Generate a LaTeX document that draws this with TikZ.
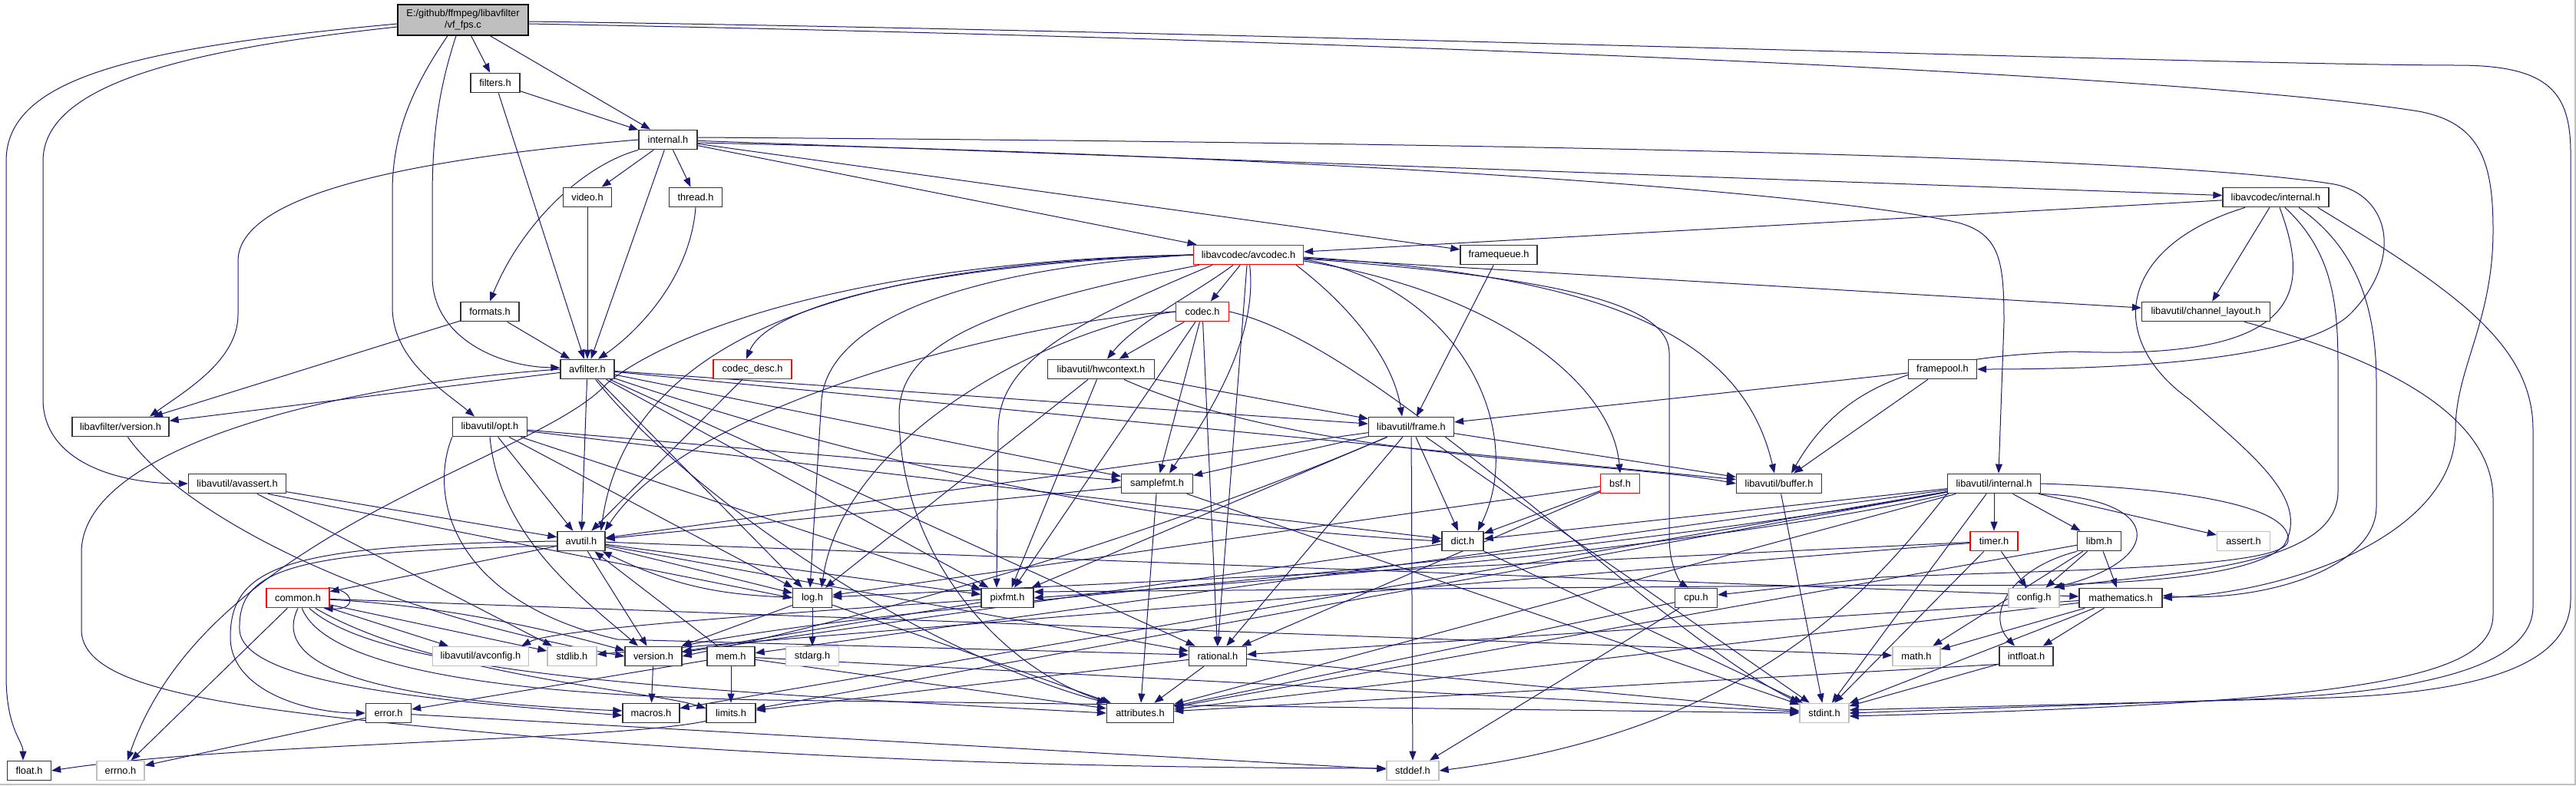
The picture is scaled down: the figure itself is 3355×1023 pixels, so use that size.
\documentclass[tikz,border=0pt]{standalone}
\usepackage{fontspec}
\setmainfont{Liberation Sans}
\usetikzlibrary{arrows.meta,calc}
\definecolor{edgec}{HTML}{191970}
\definecolor{nodeb}{HTML}{333333}
\definecolor{grayb}{HTML}{BFBFBF}
\definecolor{redb}{HTML}{FF0000}
\pgfdeclarelayer{bg}
\pgfsetlayers{bg,main}
\tikzset{
  hn/.style={draw=nodeb, line width=1.3pt, fill=white, inner sep=0pt, minimum height=25.5pt, font=\fontsize{12.8pt}{15pt}\selectfont, text=black},
  hr/.style={hn, draw=redb},
  hg/.style={hn, draw=grayb},
  e/.style={draw=edgec, line width=1pt, -{Triangle[length=12pt,width=9pt]}},
}
\newcommand\hnode[5]{\node[#1, minimum width=#4pt] (#2) at (#3) {#5};}
\begin{document}
\begin{tikzpicture}[x=1pt,y=-1pt]
\useasboundingbox (0,0) rectangle (3355,1023);
% ---------------- nodes ----------------
\node[hn, fill=grayb, draw=black, minimum width=170pt, minimum height=40pt, align=center] (root) at (603,26) {E:/github/ffmpeg/libavfilter\\/vf\_fps.c};
\hnode{hn}{filters}{645,108}{64}{filters.h}
\hnode{hn}{internal}{870,182}{76}{internal.h}
\hnode{hn}{video}{765,257}{63}{video.h}
\hnode{hn}{thread}{906,257}{69}{thread.h}
\hnode{hn}{lacinternal}{2964,257}{138}{libavcodec/internal.h}
\hnode{hr}{avcodec}{1626,332}{143}{libavcodec/avcodec.h}
\hnode{hn}{framequeue}{1952,332}{100}{framequeue.h}
\hnode{hn}{formats}{638,406}{76}{formats.h}
\hnode{hr}{codec}{1566,406}{69}{codec.h}
\hnode{hn}{chlayout}{2873,406}{167}{libavutil/channel\_layout.h}
\hnode{hn}{avfilter}{765,481}{70}{avfilter.h}
\hnode{hr}{codecdesc}{980,481}{102}{codec\_desc.h}
\hnode{hn}{hwcontext}{1434,481}{139}{libavutil/hwcontext.h}
\hnode{hn}{framepool}{2530,481}{89}{framepool.h}
\hnode{hn}{lafversion}{157,556}{126}{libavfilter/version.h}
\hnode{hn}{opt}{638,556}{97}{libavutil/opt.h}
\hnode{hn}{frame}{1838,556}{111}{libavutil/frame.h}
\hnode{hn}{avassert}{309,630}{127}{libavutil/avassert.h}
\hnode{hn}{samplefmt}{1507,630}{93}{samplefmt.h}
\hnode{hr}{bsf}{2110,630}{51}{bsf.h}
\hnode{hn}{buffer}{2317,630}{111}{libavutil/buffer.h}
\hnode{hn}{lauinternal}{2597,630}{121}{libavutil/internal.h}
\hnode{hn}{avutil}{757,705}{62}{avutil.h}
\hnode{hn}{dict}{1905,705}{54}{dict.h}
\hnode{hr}{timer}{2597,705}{62}{timer.h}
\hnode{hn}{libm}{2734,705}{57}{libm.h}
\hnode{hg}{assert}{2922,705}{69}{assert.h}
\hnode{hr}{common}{388,779}{82}{common.h}
\hnode{hn}{log}{1058,779}{51}{log.h}
\hnode{hn}{pixfmt}{1312,779}{68}{pixfmt.h}
\hnode{hn}{cpu}{2209,779}{55}{cpu.h}
\hnode{hg}{config}{2649,779}{66}{config.h}
\hnode{hn}{mathematics}{2762,779}{108}{mathematics.h}
\hnode{hg}{avconfig}{626,855}{125}{libavutil/avconfig.h}
\hnode{hg}{stdlib}{745,855}{64}{stdlib.h}
\hnode{hn}{version}{851,855}{74}{version.h}
\hnode{hn}{mem}{952,855}{62}{mem.h}
\hnode{hg}{stdarg}{1058,855}{69}{stdarg.h}
\hnode{hn}{rational}{1586,855}{75}{rational.h}
\hnode{hg}{math}{2496,855}{62}{math.h}
\hnode{hn}{intfloat}{2639,855}{70}{intfloat.h}
\hnode{hn}{error}{506,929}{59}{error.h}
\hnode{hn}{macros}{848,929}{74}{macros.h}
\hnode{hn}{limits}{952,929}{64}{limits.h}
\hnode{hn}{attributes}{1485,929}{87}{attributes.h}
\hnode{hg}{stdint}{2376,929}{64}{stdint.h}
\hnode{hn}{float}{38,1004}{57}{float.h}
\hnode{hg}{errno}{157,1004}{62}{errno.h}
\hnode{hg}{stddef}{1840,1004}{68}{stddef.h}
% ---------------- edges ----------------
\begin{pgfonlayer}{bg}
\fill[white] (0,0) rectangle (3355,1023);
\draw[grayb, line width=2pt] (0,1022) -- (3354,1022) -- (3354,0);
% root
\draw[e] ($(root.west)+(0,5)$) .. controls (180,62) and (8,100) .. (8,210) -- (8,880) .. controls (8,950) and (30,965) .. ($(float.north)+(-8,0)$);
\draw[e] ($(root.west)+(0,9)$) .. controls (240,65) and (56,110) .. (56,210) -- (56,520) .. controls (56,600) and (150,630) .. (avassert.west);
\draw[e] ($(root.south)+(-20,0)$) .. controls (540,110) and (511,170) .. (511,250) -- (511,400) .. controls (511,470) and (580,510) .. ($(opt.north)+(-20,0)$);
\draw[e] ($(root.south)+(-9,0)$) .. controls (570,120) and (563,180) .. (563,260) -- (563,360) .. controls (563,440) and (650,478) .. ($(avfilter.west)+(0,-2)$);
\draw[e] (root) -- (filters);
\draw[e] (root) -- (internal);
\draw[e] ($(root.east)+(0,2)$) .. controls (1600,40) and (2900,85) .. (3200,85) .. controls (3320,85) and (3348,120) .. (3348,200) -- (3348,780) .. controls (3348,860) and (3250,905) .. (3000,910) -- ($(stdint.east)+(0,-4)$);
\draw[e] ($(root.east)+(0,5)$) .. controls (1600,48) and (2800,90) .. (3150,145) .. controls (3230,160) and (3247,210) .. (3247,300) .. controls (3247,420) and (3198,480) .. (3198,560) .. controls (3198,690) and (3000,770) .. (mathematics.east);
% filters
\draw[e] (filters) -- (internal);
\draw[e] (filters) -- (avfilter);
% internal
\draw[e] (internal) -- (video);
\draw[e] (internal) -- (thread);
\draw[e] (internal) -- (avfilter);
\draw[e] (internal.south west) .. controls (760,215) and (680,290) .. (formats.north);
\draw[e] (internal.west) .. controls (500,210) and (310,260) .. (310,340) -- (310,410) .. controls (310,470) and (240,510) .. ($(lafversion.north)+(38,0)$);
\draw[e] (internal) -- (avcodec);
\draw[e] (internal) -- (framequeue);
\draw[e] (internal) -- (lacinternal);
\draw[e] ($(internal.east)+(0,-3)$) .. controls (1800,185) and (2800,200) .. (3040,240) .. controls (3115,255) and (3130,340) .. (3060,410) .. controls (3000,465) and (2800,481) .. (framepool.east);
\draw[e] ($(internal.east)+(0,4)$) .. controls (1800,205) and (2400,255) .. (2550,290) .. controls (2605,305) and (2610,340) .. (2610,420) -- ($(lauinternal.north)+(6,0)$);
% video, thread, formats
\draw[e] (video) -- (avfilter);
\draw[e] (thread.south) .. controls (898,370) and (820,440) .. ($(avfilter.north)+(14,0)$);
\draw[e] (formats) -- (avfilter);
\draw[e] (formats) -- (lafversion);
% avfilter
\draw[e] (avfilter) -- (lafversion);
\draw[e] (avfilter) -- (avutil);
\draw[e] (avfilter) -- (log);
\draw[e] (avfilter) -- (pixfmt);
\draw[e] (avfilter) -- (samplefmt);
\draw[e] (avfilter) -- (frame);
\draw[e] (avfilter) .. controls (1000,560) and (1400,680) .. (dict.west);
\draw[e] (avfilter) -- (buffer);
\draw[e] (avfilter) -- (rational);
\draw[e] (avfilter) .. controls (900,650) and (1200,850) .. (attributes.north west);
\draw[e] (avfilter.west) .. controls (450,500) and (106,580) .. (106,720) -- (106,820) .. controls (106,900) and (300,925) .. (700,960) .. controls (1200,1000) and (1600,1000) .. ($(stddef.west)+(0,-3)$);
% libavfilter/version.h
\draw[e] (lafversion) .. controls (230,660) and (450,790) .. (version.west);
% opt
\draw[e] (opt) -- (avutil);
\draw[e] (opt) -- (dict);
\draw[e] (opt) -- (log);
\draw[e] (opt) -- (pixfmt);
\draw[e] (opt) -- (samplefmt);
\draw[e] (opt.south) .. controls (650,700) and (760,780) .. ($(version.north)+(-20,0)$);
\draw[e] (opt.south west) .. controls (560,640) and (580,780) .. (804,833) -- ($(rational.west)+(0,-2)$);
% avassert
\draw[e] (avassert) -- (stdlib);
\draw[e] (avassert) -- (avutil);
\draw[e] ($(avassert.south)+(40,0)$) -- (log.west);
% libavcodec/internal.h
\draw[e] (lacinternal) -- (avcodec);
\draw[e] (lacinternal) -- (chlayout);
\draw[e] ($(lacinternal.south)+(5,0)$) .. controls (3010,380) and (3000,470) .. (2700,458) .. controls (2500,465) and (2400,500) .. ($(buffer.north)+(16,0)$);
\draw[e] ($(lacinternal.south)+(-40,0)$) .. controls (2760,320) and (2740,440) .. (2851,520) .. controls (2930,590) and (3010,650) .. (2975,710) .. controls (2930,760) and (2700,765) .. (2500,762) -- ($(pixfmt.east)+(0,-8)$);
\draw[e] ($(lacinternal.south)+(12,0)$) .. controls (3040,330) and (3045,400) .. (3045,480) -- (3045,640) .. controls (3045,740) and (2830,745) .. ($(config.north east)+(-6,0)$);
\draw[e] ($(lacinternal.south)+(30,0)$) .. controls (3080,330) and (3095,420) .. (3095,500) -- (3095,660) .. controls (3095,740) and (2950,785) .. ($(mathematics.east)+(0,-3)$);
\draw[e] ($(lacinternal.south east)+(-15,0)$) .. controls (3200,380) and (3299,450) .. (3299,560) -- (3299,790) .. controls (3299,870) and (3150,905) .. (2900,912) -- (stdint.east);
% libavcodec/avcodec.h
\draw[e] (avcodec.west) .. controls (1100,340) and (860,440) .. (790,500) .. controls (700,600) and (270,690) .. ($(errno.north)+(9,0)$);
\draw[e] (avcodec) .. controls (1640,450) and (1560,560) .. ($(samplefmt.north)+(16,0)$);
\draw[e] ($(avcodec.south west)+(8,0)$) .. controls (1280,400) and (1171,450) .. (1171,540) .. controls (1171,720) and (1300,870) .. ($(attributes.north west)+(4,0)$);
\draw[e] (avcodec.west) .. controls (1150,342) and (820,420) .. ($(avutil.north east)+(-6,0)$);
\draw[e] ($(avcodec.east)+(0,3)$) .. controls (2100,360) and (2270,440) .. ($(buffer.north)+(-6,0)$);
\draw[e] ($(avcodec.east)+(0,5)$) .. controls (2000,360) and (2174,390) .. (2174,460) -- (2174,700) .. controls (2174,740) and (2190,760) .. ($(cpu.north)+(-10,0)$);
\draw[e] (avcodec) -- (chlayout);
\draw[e] ($(avcodec.east)+(0,6)$) .. controls (1900,370) and (1990,560) .. ($(dict.north east)+(-8,0)$);
\draw[e] ($(avcodec.south east)+(-10,0)$) .. controls (1760,400) and (1815,470) .. ($(frame.north)+(-12,0)$);
\draw[e] ($(avcodec.south)+(-20,0)$) .. controls (1560,380) and (1480,420) .. ($(hwcontext.north)+(8,0)$);
\draw[e] (avcodec.west) .. controls (1250,350) and (1080,420) .. (1070,520) -- ($(log.north)+(-3,0)$);
\draw[e] ($(avcodec.south west)+(25,0)$) .. controls (1400,420) and (1300,470) .. (1300,560) -- ($(pixfmt.north)+(-14,0)$);
\draw[e] ($(avcodec.south)+(-2,0)$) -- (rational.north);
\draw[e] ($(avcodec.east)+(0,8)$) .. controls (1950,380) and (2100,500) .. (bsf.north);
\draw[e] (avcodec) -- (codec);
\draw[e] (avcodec.west) .. controls (1200,345) and (1000,400) .. ($(codecdesc.north)+(-8,0)$);
% framequeue, framepool
\draw[e] (framequeue) -- (frame);
\draw[e] (framepool) -- (buffer);
\draw[e] (framepool) -- (frame);
% codec
\draw[e] (codec) -- (hwcontext);
\draw[e] (codec.west) .. controls (1350,415) and (900,520) .. ($(avutil.north east)+(-1,0)$);
\draw[e] (codec.west) .. controls (1380,425) and (1100,560) .. ($(log.north)+(12,0)$);
\draw[e] (codec) -- (pixfmt);
\draw[e] (codec) -- (rational);
\draw[e] (codec) -- (samplefmt);
\draw[e] (codec.east) .. controls (1800,450) and (2150,820) .. (stdint.north west);
% codec_desc, hwcontext, channel_layout
\draw[e] (codecdesc) -- (avutil);
\draw[e] (hwcontext) .. controls (1700,600) and (2100,600) .. (buffer.west);
\draw[e] (hwcontext) -- (frame);
\draw[e] (hwcontext) -- (log);
\draw[e] (hwcontext) -- (pixfmt);
\draw[e] (chlayout) .. controls (3150,480) and (3247,560) .. (3247,650) -- (3247,800) .. controls (3247,880) and (3100,915) .. ($(stdint.east)+(0,4)$);
% frame
\draw[e] (frame) -- (stddef);
\draw[e] (frame) -- (stdint);
\draw[e] (frame) -- (avutil);
\draw[e] (frame) -- (buffer);
\draw[e] (frame) -- (dict);
\draw[e] (frame) -- (rational);
\draw[e] (frame) -- (samplefmt);
\draw[e] (frame) -- (pixfmt);
\draw[e] (frame) .. controls (1500,700) and (1150,800) .. (version.east);
% bsf, buffer, samplefmt
\draw[e] (bsf) -- (dict);
\draw[e] (bsf) -- (log);
\draw[e] (bsf) -- (rational);
\draw[e] (buffer) -- (stdint);
\draw[e] (samplefmt) -- (stdint);
\draw[e] (samplefmt) -- (avutil);
\draw[e] (samplefmt) -- (attributes);
% libavutil/internal.h
\draw[e] (lauinternal) -- (timer);
\draw[e] (lauinternal) -- (libm);
\draw[e] (lauinternal) -- (assert);
\draw[e] (lauinternal.south east) .. controls (2820,650) and (2820,730) .. ($(config.north east)+(-8,0)$);
\draw[e] (lauinternal.east) .. controls (2900,638) and (2985,670) .. (2980,705) .. controls (2975,740) and (2700,742) .. (2450,752) -- ($(cpu.east)+(0,-4)$);
\draw[e] (lauinternal) -- (dict);
\draw[e] (lauinternal) -- (macros);
\draw[e] (lauinternal) -- (mem);
\draw[e] (lauinternal) .. controls (2200,720) and (1600,760) .. (pixfmt.east);
\draw[e] (lauinternal) .. controls (2000,740) and (1200,780) .. (version.north east);
\draw[e] (lauinternal) -- (limits);
\draw[e] (lauinternal) -- (stdint);
\draw[e] (lauinternal) -- (attributes);
\draw[e] (lauinternal.south west) .. controls (2450,750) and (2300,950) .. (stddef.east);
% timer, libm
\draw[e] (timer) -- (config);
\draw[e] (timer) -- (stdint);
\draw[e] (timer) -- (log);
\draw[e] (timer) -- (stdlib);
\draw[e] (libm) -- (math);
\draw[e] (libm) -- (config);
\draw[e] (libm) -- (attributes);
\draw[e] (libm.south west) .. controls (2620,740) and (2585,800) .. ($(intfloat.north)+(-15,0)$);
\draw[e] (libm) -- (mathematics);
% log, pixfmt
\draw[e] (log) -- (stdarg);
\draw[e] (log) to[bend left=12] (avutil);
\draw[e] (log) -- (attributes);
\draw[e] (log) -- (version);
\draw[e] (pixfmt) .. controls (1000,800) and (720,820) .. ($(avconfig.north east)+(-10,0)$);
\draw[e] (pixfmt) -- (version);
% mathematics, cpu
\draw[e] (mathematics) -- (stdint);
\draw[e] (mathematics) -- (math);
\draw[e] (mathematics) -- (attributes);
\draw[e] (mathematics) -- (rational);
\draw[e] (mathematics) -- (intfloat);
\draw[e] (cpu) -- (attributes);
\draw[e] (cpu) -- (stddef);
% common
\draw[e] (common) -- (errno);
\draw[e] (common) -- (avconfig);
\draw[e] (common) -- (stdlib);
\draw[e] (common) .. controls (600,790) and (750,830) .. ($(version.north west)+(0,6)$);
\draw[e] (common.south) .. controls (360,850) and (420,910) .. ($(macros.west)+(0,-3)$);
\draw[e] (common) .. controls (500,880) and (900,900) .. (attributes.west);
\draw[e] (common) .. controls (560,880) and (850,900) .. ($(limits.west)+(0,-6)$);
\draw[e] (common) .. controls (420,860) and (600,905) .. (1000,912) -- (stdint.west);
\draw[e] (common) -- (math);
\draw[e] ($(common.north east)+(-2,0)$) .. controls (462,768) and (466,795) .. ($(common.south east)+(-8,0)$);
% mem, rational, intfloat, dict
\draw[e] (mem) -- (limits);
\draw[e] (mem) -- (stdint);
\draw[e] (mem) -- (attributes);
\draw[e] (mem) -- (error);
\draw[e] (mem) -- (avutil);
\draw[e] (rational) -- (stdint);
\draw[e] (rational) -- (limits);
\draw[e] (rational) -- (attributes);
\draw[e] (intfloat) -- (stdint);
\draw[e] ($(intfloat.south west)+(0,-3)$) -- (attributes);
\draw[e] (dict) -- (stdint);
\draw[e] (dict) -- (version);
% version, error, limits
\draw[e] (version) -- (macros);
\draw[e] (error) -- (errno);
\draw[e] (error) -- (stddef);
\draw[e] ($(limits.south west)+(0,-3)$) .. controls (800,965) and (300,968) .. (float.east);
% avutil
\draw[e] (avutil) -- (common);
\draw[e] (avutil.west) .. controls (380,710) and (300,735) .. (300,830) .. controls (300,900) and (400,929) .. (error.west);
\draw[e] ($(avutil.west)+(0,6)$) .. controls (380,718) and (310,740) .. (312,820) .. controls (314,895) and (600,915) .. ($(macros.west)+(0,3)$);
\draw[e] (avutil) -- (version);
\draw[e] (avutil) -- (rational);
\draw[e] (avutil) -- (mathematics);
\draw[e] (avutil) -- (log);
\draw[e] (avutil) -- (pixfmt);
\end{pgfonlayer}
\end{tikzpicture}
\end{document}
